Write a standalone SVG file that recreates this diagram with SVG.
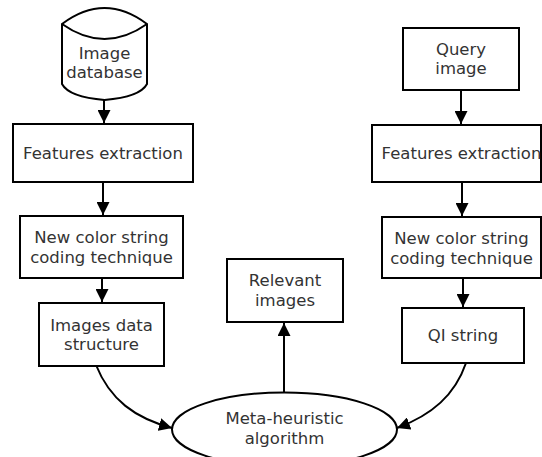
<svg xmlns="http://www.w3.org/2000/svg" width="542" height="457" viewBox="0 0 542 457">
<style>
.n{fill:#fff;stroke:#000;stroke-width:2}
.t{font-family:"DejaVu Sans",sans-serif;font-size:16.5px;fill:#333;text-anchor:middle}
.c{fill:none;stroke:#000;stroke-width:2}
</style>
<defs>
<marker id="ah" viewBox="0 0 10 10" refX="10" refY="5" markerWidth="6.5" markerHeight="6.5" orient="auto" markerUnits="strokeWidth">
<path d="M0,0 L10,5 L0,10 z" fill="#000"/>
</marker>
</defs>
<rect width="542" height="457" fill="#fff"/>
<g id="connectors">
<path class="c" d="M104,100 L104,123" marker-end="url(#ah)"/>
<path class="c" d="M103,182 L103,215" marker-end="url(#ah)"/>
<path class="c" d="M102,278 L102,302" marker-end="url(#ah)"/>
<path class="c" d="M461,90 L461,124" marker-end="url(#ah)"/>
<path class="c" d="M462,182 L462,216" marker-end="url(#ah)"/>
<path class="c" d="M463,278 L463,307" marker-end="url(#ah)"/>
<path class="c" d="M96,365 C110,400 135,418 172,428" marker-end="url(#ah)"/>
<path class="c" d="M466,363 C455,395 432,415 397,428" marker-end="url(#ah)"/>
<path class="c" d="M284,392 L284,323" marker-end="url(#ah)"/>
</g>
<g id="image-database">
<path class="n" d="M62,24 Q104.5,-8 147,24 L147,84 Q140,97 104.5,100 Q69,97 62,84 Z"/>
<path class="c" d="M62,24 Q104.5,54 147,24"/>
<text class="t" x="104.5" y="59">Image</text>
<text class="t" x="104.5" y="78">database</text>
</g>
<g id="features-left">
<rect class="n" x="13" y="124" width="180" height="58"/>
<text class="t" x="103" y="159">Features extraction</text>
</g>
<g id="coding-left">
<rect class="n" x="20" y="216" width="163" height="62"/>
<text class="t" x="101.5" y="243">New color string</text>
<text class="t" x="101.5" y="263">coding technique</text>
</g>
<g id="images-data-structure">
<rect class="n" x="39" y="303" width="125" height="63"/>
<text class="t" x="101.5" y="331">Images data</text>
<text class="t" x="101.5" y="350">structure</text>
</g>
<g id="query-image">
<rect class="n" x="403" y="28" width="116" height="62"/>
<text class="t" x="461" y="55">Query</text>
<text class="t" x="461" y="74">image</text>
</g>
<g id="features-right">
<rect class="n" x="372" y="125" width="169" height="57"/>
<text class="t" x="461.5" y="159">Features extraction</text>
</g>
<g id="coding-right">
<rect class="n" x="382" y="217" width="159" height="61"/>
<text class="t" x="461.5" y="244">New color string</text>
<text class="t" x="461.5" y="264">coding technique</text>
</g>
<g id="qi-string">
<rect class="n" x="402" y="308" width="122" height="55"/>
<text class="t" x="463" y="341">QI string</text>
</g>
<g id="relevant-images">
<rect class="n" x="227" y="259" width="116" height="63"/>
<text class="t" x="285" y="286">Relevant</text>
<text class="t" x="285" y="306">images</text>
</g>
<g id="meta-heuristic">
<ellipse class="n" cx="284.5" cy="429.5" rx="112.5" ry="37"/>
<text class="t" x="284.5" y="424">Meta-heuristic</text>
<text class="t" x="284.5" y="444">algorithm</text>
</g>
</svg>
